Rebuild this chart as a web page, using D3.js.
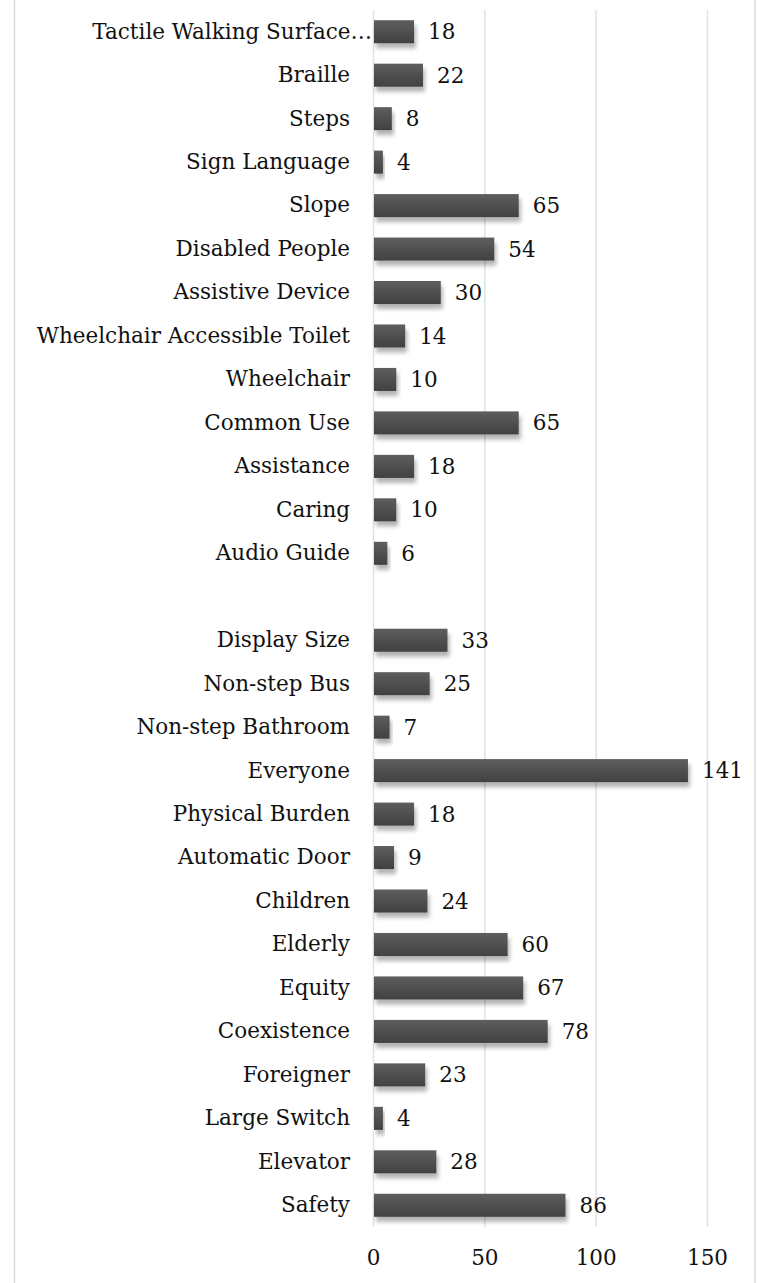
<!DOCTYPE html>
<html><head><meta charset="utf-8">
<script src="https://cdn.jsdelivr.net/npm/d3@7"></script>
<style>
html,body{margin:0;padding:0;background:#fff;}
svg{display:block;}
</style></head>
<body>
<script>
const categories = ["Tactile Walking Surface…","Braille","Steps","Sign Language","Slope","Disabled People","Assistive Device","Wheelchair Accessible Toilet","Wheelchair","Common Use","Assistance","Caring","Audio Guide","","Display Size","Non-step Bus","Non-step Bathroom","Everyone","Physical Burden","Automatic Door","Children","Elderly","Equity","Coexistence","Foreigner","Large Switch","Elevator","Safety"];
const values = [18,22,8,4,65,54,30,14,10,65,18,10,6,null,33,25,7,141,18,9,24,60,67,78,23,4,28,86];
const xTicks = [0,50,100,150];

const W = 757, H = 1283;
const m = {left:373, top:10, bottom:1227};
const font = "'DejaVu Serif', serif";
const fs = 21.5;

const svg = d3.select("body").append("svg").attr("width",W).attr("height",H);
const defs = svg.append("defs");
const grad = defs.append("linearGradient").attr("id","barGrad").attr("x1",0).attr("y1",0).attr("x2",0).attr("y2",1);
grad.append("stop").attr("offset","0%").attr("stop-color","#5e5e5e");
grad.append("stop").attr("offset","100%").attr("stop-color","#414141");
const filt = defs.append("filter").attr("id","shadow").attr("x","-10%").attr("y","-30%").attr("width","130%").attr("height","220%");
filt.append("feGaussianBlur").attr("in","SourceAlpha").attr("stdDeviation",2).attr("result","b");
filt.append("feOffset").attr("in","b").attr("dx",2).attr("dy",5).attr("result","o");
filt.append("feComponentTransfer").attr("in","o").attr("result","o2").append("feFuncA").attr("type","linear").attr("slope",0.3);
const merge = filt.append("feMerge");
merge.append("feMergeNode").attr("in","o2");
merge.append("feMergeNode").attr("in","SourceGraphic");

// frame
svg.append("line").attr("x1",14.5).attr("x2",14.5).attr("y1",0).attr("y2",H).attr("stroke","#d9dde3").attr("stroke-width",1.5);
svg.append("line").attr("x1",755).attr("x2",755).attr("y1",0).attr("y2",H).attr("stroke","#d9dde3").attr("stroke-width",1.5);

const x = d3.scaleLinear().domain([0,150]).range([m.left, 707]);
const y = d3.scaleBand().domain(categories.map((c,i)=>i)).range([m.top, m.bottom]).paddingInner(0.47).paddingOuter(0.235);

// gridlines
svg.append("g").selectAll("line").data(xTicks).join("line")
  .attr("x1",d=>x(d)+0.5).attr("x2",d=>x(d)+0.5)
  .attr("y1",m.top).attr("y2",m.bottom)
  .attr("stroke","#dde2e9").attr("stroke-width",1.5);

// bars
const data = categories.map((c,i)=>({c,i,v:values[i]})).filter(d=>d.v!=null);
svg.append("g").selectAll("rect").data(data).join("rect")
  .attr("x",x(0)+1).attr("y",d=>y(d.i))
  .attr("width",d=>x(d.v)-x(0)).attr("height",y.bandwidth())
  .attr("fill","url(#barGrad)").attr("filter","url(#shadow)");

// value labels
svg.append("g").selectAll("text").data(data).join("text")
  .attr("x",d=>x(d.v)+15).attr("y",d=>y(d.i)+y.bandwidth()/2)
  .attr("dy","0.35em").attr("font-family",font).attr("font-size",fs).attr("fill","#111")
  .text(d=>d.v);

// category axis labels
const yAxis = d3.axisLeft(y).tickSize(0).tickPadding(23).tickFormat(i=>categories[i]);
const ya = svg.append("g").attr("transform",`translate(${m.left},0)`).call(yAxis);
ya.select(".domain").remove();
ya.selectAll("text").attr("font-family",font).attr("font-size",fs).attr("fill","#111")
  .attr("dx",i=>categories[i].endsWith("…") ? 22 : 0);

// x axis
const xAxis = d3.axisBottom(x).tickValues(xTicks).tickSize(0).tickPadding(13);
const xa = svg.append("g").attr("transform",`translate(0,1237)`).call(xAxis);
xa.select(".domain").remove();
xa.selectAll("text").attr("font-family",font).attr("font-size",fs).attr("fill","#111");
</script>
</body></html>
